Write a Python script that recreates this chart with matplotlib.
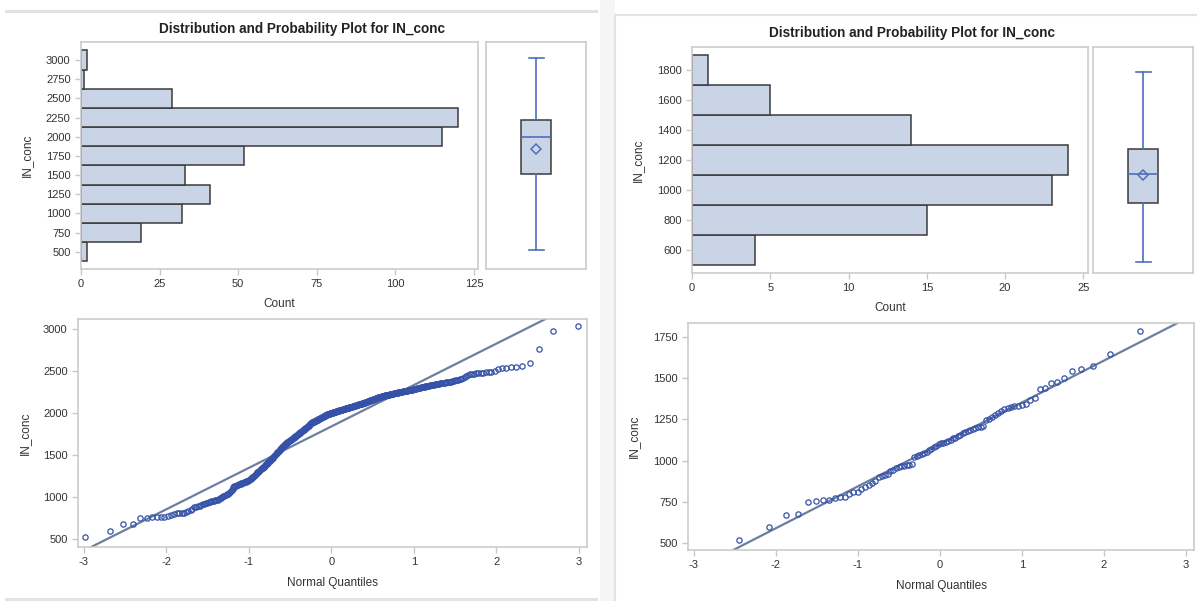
"""Distribution and probability plots for IN_conc - two data sets side by side"""

from statistics import NormalDist

import matplotlib
matplotlib.use("Agg")
import matplotlib.pyplot as plt
from matplotlib.lines import Line2D
from matplotlib.patches import Rectangle
import numpy as np

plt.rcParams["font.family"] = ["Liberation Sans", "DejaVu Sans"]
plt.rcParams["axes.unicode_minus"] = False

W, H = 1197, 601

# sorted IN_conc values (left data set, n=446)
LEFT_CONC = [
    520, 599,
    675, 678, 750, 755, 760, 762, 765, 768, 770, 790, 800, 805, 808, 810, 815, 825, 835, 848, 860,
    880, 885, 892, 898, 905, 912, 918, 925, 930, 936, 942, 948, 953, 958, 962, 966,
    970, 976, 984, 992, 1000, 1008, 1016, 1024, 1032, 1040, 1050, 1060, 1072, 1085, 1100, 1115,
    1128, 1132, 1136, 1140, 1145, 1150, 1154, 1158, 1162, 1166, 1170, 1174, 1178, 1182, 1186, 1190,
    1194, 1198, 1205, 1212, 1220, 1228, 1236, 1244, 1252, 1260, 1268, 1276, 1284, 1292, 1300, 1308,
    1315, 1322, 1330, 1337, 1344, 1350, 1356, 1362, 1370,
    1380, 1388, 1395, 1402, 1410, 1418, 1425, 1432, 1440, 1448, 1455, 1462, 1470, 1478, 1485, 1492,
    1500, 1508, 1515, 1522, 1530, 1538, 1545, 1552, 1560, 1568, 1575, 1582, 1590, 1598, 1605, 1612, 1620,
    1628, 1632, 1637, 1642, 1646, 1651, 1656, 1660, 1665, 1670, 1675, 1679, 1684, 1689, 1693, 1698,
    1703, 1708, 1712, 1717, 1722, 1726, 1731, 1736, 1740, 1745, 1750, 1755, 1759, 1764, 1769, 1773,
    1778, 1783, 1788, 1792, 1797, 1802, 1806, 1811, 1816, 1820, 1825, 1830, 1835, 1840, 1845, 1850,
    1855, 1860, 1865, 1870,
    1878, 1881, 1884, 1887, 1890, 1893, 1896, 1899, 1902, 1905, 1908, 1911, 1914, 1917, 1920, 1923,
    1926, 1929, 1932, 1935, 1938, 1941, 1944, 1947, 1950, 1953, 1956, 1959, 1962, 1965, 1968, 1971,
    1974, 1977, 1980, 1983, 1986, 1988, 1990, 1992, 1994, 1996, 1997, 1998,
    2000, 2002, 2004, 2005, 2007, 2009, 2011, 2012, 2014, 2016, 2018, 2019, 2021, 2023, 2025, 2026,
    2028, 2030, 2032, 2033, 2035, 2037, 2039, 2040, 2042, 2044, 2046, 2047, 2049, 2051, 2053, 2054,
    2056, 2058, 2060, 2061, 2063, 2065, 2067, 2068, 2070, 2072, 2074, 2075, 2077, 2079, 2081, 2082,
    2084, 2086, 2088, 2089, 2091, 2093, 2095, 2096, 2098, 2100, 2102, 2103, 2105, 2107, 2109, 2110,
    2112, 2114, 2116, 2117, 2119, 2121, 2123,
    2127, 2129, 2131, 2134, 2136, 2138, 2141, 2143, 2145, 2148, 2150, 2152, 2155, 2157, 2159, 2162,
    2164, 2166, 2169, 2171, 2173, 2176, 2178, 2180, 2183, 2185, 2187, 2190, 2192, 2194, 2196, 2198, 2200,
    2202, 2204, 2205, 2207, 2209, 2210, 2212, 2214, 2215, 2217, 2219, 2220, 2222, 2224, 2225, 2227,
    2229, 2230, 2232, 2234, 2235, 2237, 2239, 2240, 2242, 2244, 2245, 2247, 2249, 2250, 2252, 2254,
    2255, 2257, 2259, 2260, 2262, 2264, 2265, 2267, 2269, 2270, 2272, 2274, 2275, 2277, 2279, 2280,
    2282, 2284, 2287, 2289, 2292, 2294, 2296, 2299, 2301, 2304, 2306, 2308, 2311, 2313, 2316, 2318,
    2320, 2323, 2325, 2328, 2330, 2332, 2335, 2337, 2340, 2342, 2344, 2347, 2349, 2352, 2354, 2356,
    2359, 2361, 2364, 2366, 2368, 2371, 2373,
    2378, 2382, 2388, 2393, 2398, 2402, 2410, 2420, 2432, 2445, 2455, 2462, 2466, 2470, 2472, 2475,
    2477, 2480, 2483, 2488, 2494, 2505, 2520, 2535, 2540, 2548, 2552, 2555, 2595,
    2765,
    2980, 3030,
]

# right data set, n=86
RIGHT_CONC = [
    520, 599, 672, 678,
    749, 755, 759, 762, 772, 778, 782, 800, 810, 812, 825, 840, 852, 862, 876,
    902, 908, 914, 922, 935, 945, 955, 960, 965, 968, 972, 975, 980, 1025, 1030, 1035, 1042,
    1048, 1055, 1062, 1070, 1080, 1088,
    1102, 1106, 1110, 1115, 1122, 1128, 1135, 1140, 1148, 1155, 1165, 1175, 1182, 1188, 1195, 1200,
    1203, 1205, 1210, 1248, 1255, 1262, 1275, 1290,
    1302, 1312, 1320, 1325, 1330, 1332, 1335, 1345, 1365, 1380, 1432, 1440, 1470, 1480,
    1501, 1542, 1558, 1572, 1649,
    1786,
]

LEFT_BIN_EDGES = [375, 625, 875, 1125, 1375, 1625, 1875, 2125, 2375, 2625, 2875, 3125]
RIGHT_BIN_EDGES = [500, 700, 900, 1100, 1300, 1500, 1700, 1900]

LEFT_HIST_XTICKS = [0, 25, 50, 75, 100, 125]
LEFT_HIST_YTICKS = [500, 750, 1000, 1250, 1500, 1750, 2000, 2250, 2500, 2750, 3000]
LEFT_QQ_YTICKS = [500, 1000, 1500, 2000, 2500, 3000]
RIGHT_HIST_XTICKS = [0, 5, 10, 15, 20, 25]
RIGHT_HIST_YTICKS = [600, 800, 1000, 1200, 1400, 1600, 1800]
RIGHT_QQ_YTICKS = [500, 750, 1000, 1250, 1500, 1750]
QQ_XTICKS = [-3, -2, -1, 0, 1, 2, 3]

TITLE = "Distribution and Probability Plot for IN_conc"

# SAS-like palette
BAR_FILL = "#c9d4e6"
BAR_EDGE = "#3a3a3a"
BOX_BLUE = "#4f6fbd"
MARKER_BLUE = "#3552a8"
REF_LINE = "#6c7fa0"
FRAME = "#c8c8c8"
TEXT = "#333333"
SEP = "#e2e2e2"


def px_rect(x0, y0, x1, y1):
    """pixel box (top-left origin) -> figure fraction [l, b, w, h]"""
    return [x0 / W, 1 - y1 / H, (x1 - x0) / W, (y1 - y0) / H]


def style_axes(ax):
    for sp in ax.spines.values():
        sp.set_color(FRAME)
        sp.set_linewidth(1.1)
    ax.tick_params(colors=FRAME, labelcolor=TEXT, labelsize=8, length=4, width=1)
    ax.xaxis.label.set_color(TEXT)
    ax.yaxis.label.set_color(TEXT)


def draw_panel(fig, data, edges, boxes, hist_lim, qq_lim, ticks, title_xy):
    hist_box, box_box, qq_box = boxes
    xmax, (y0, y1) = hist_lim
    hist_xticks, hist_yticks, qq_yticks = ticks

    # histogram (horizontal)
    ax_h = fig.add_axes(px_rect(*hist_box))
    ax_h.hist(data, bins=edges, orientation="horizontal",
              color=BAR_FILL, edgecolor=BAR_EDGE, linewidth=1.1)
    ax_h.set_xlim(0, xmax)
    ax_h.set_ylim(y0, y1)
    ax_h.set_xticks(hist_xticks)
    ax_h.set_yticks(hist_yticks)
    ax_h.set_xlabel("Count", fontsize=8.5, labelpad=6)
    ax_h.set_ylabel("IN_conc", fontsize=8.5, labelpad=9)
    style_axes(ax_h)

    # box plot
    ax_b = fig.add_axes(px_rect(*box_box))
    ax_b.boxplot(
        data, positions=[0.5], widths=0.3, capwidths=0.15,
        patch_artist=True, showmeans=True, showfliers=False,
        boxprops=dict(facecolor=BAR_FILL, edgecolor=BAR_EDGE, linewidth=1.1),
        whiskerprops=dict(color=BOX_BLUE, linewidth=1.2),
        capprops=dict(color=BOX_BLUE, linewidth=1.2),
        medianprops=dict(color=BOX_BLUE, linewidth=1.2),
        meanprops=dict(marker="D", markersize=5.5, markerfacecolor="none",
                       markeredgecolor=BOX_BLUE, markeredgewidth=1.1),
    )
    ax_b.set_xlim(0, 1)
    ax_b.set_ylim(y0, y1)
    ax_b.set_xticks([])
    ax_b.set_yticks([])
    style_axes(ax_b)

    # normal probability plot
    ax_q = fig.add_axes(px_rect(*qq_box))
    vals = np.sort(np.asarray(data, dtype=float))
    n = len(vals)
    nd = NormalDist()
    quant = [nd.inv_cdf((i - 0.375) / (n + 0.25)) for i in range(1, n + 1)]
    mu, sigma = vals.mean(), vals.std(ddof=1)
    ax_q.axline((0, mu), slope=sigma, color=REF_LINE, linewidth=1.6, zorder=1)
    ax_q.plot(quant, vals, linestyle="none", marker="o", markersize=3.8,
              markerfacecolor="none", markeredgecolor=MARKER_BLUE,
              markeredgewidth=0.9, zorder=2)
    ax_q.set_xlim(*qq_lim[0])
    ax_q.set_ylim(*qq_lim[1])
    ax_q.set_xticks(QQ_XTICKS)
    ax_q.set_yticks(qq_yticks)
    ax_q.set_xlabel("Normal Quantiles", fontsize=8.5, labelpad=7)
    ax_q.set_ylabel("IN_conc", fontsize=8.5, labelpad=9)
    style_axes(ax_q)

    fig.text(title_xy[0] / W, 1 - title_xy[1] / H, TITLE, ha="center", va="center",
             fontsize=9.8, fontweight="bold", color="#222222")


fig = plt.figure(figsize=(W / 100, H / 100), dpi=100)
fig.patch.set_facecolor("white")

# page separators like the report viewer
def sep_line(xs, ys, lw=2.0, color=SEP):
    fig.add_artist(Line2D([x / W for x in xs], [1 - y / H for y in ys],
                          color=color, linewidth=lw))

fig.add_artist(Rectangle((600 / W, 0), 15 / W, 1, transform=fig.transFigure,
                         facecolor="#f5f5f8", edgecolor="none"))
sep_line([6, 596], [11, 11], lw=2.2)
sep_line([6, 596], [599, 599], lw=2.2)
sep_line([615, 615], [15, 601], lw=1.5)
sep_line([615, 1197], [15, 15], lw=1.5)

draw_panel(
    fig, LEFT_CONC, LEFT_BIN_EDGES,
    boxes=[(81, 42, 478, 269), (486, 42, 586, 269), (78, 319, 587, 547)],
    hist_lim=(126.3, (274, 3235)),
    qq_lim=((-3.07, 3.10), (405, 3119)),
    ticks=(LEFT_HIST_XTICKS, LEFT_HIST_YTICKS, LEFT_QQ_YTICKS),
    title_xy=(302, 29),
)

draw_panel(
    fig, RIGHT_CONC, RIGHT_BIN_EDGES,
    boxes=[(692, 47, 1088, 273), (1093, 47, 1193, 273), (688, 323, 1194, 550)],
    hist_lim=(25.3, (447, 1953)),
    qq_lim=((-3.07, 3.10), (458, 1835)),
    ticks=(RIGHT_HIST_XTICKS, RIGHT_HIST_YTICKS, RIGHT_QQ_YTICKS),
    title_xy=(912, 33),
)

fig.savefig("out.png", dpi=100)
plt.close(fig)
